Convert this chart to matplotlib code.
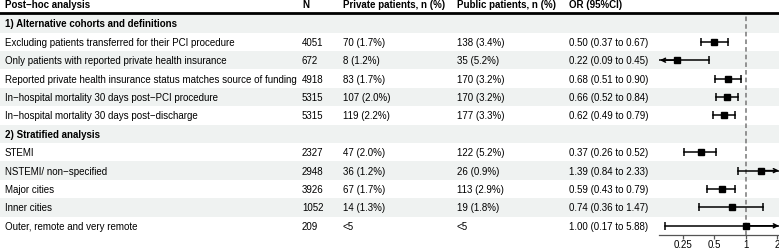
import numpy as np
import matplotlib.pyplot as plt

plt.rcParams['font.family'] = ['Liberation Sans', 'DejaVu Sans']

# table data (section headers have no values)
labels = ["1) Alternative cohorts and definitions",
          "Excluding patients transferred for their PCI procedure",
          "Only patients with reported private health insurance",
          "Reported private health insurance status matches source of funding",
          "In\u2212hospital mortality 30 days post\u2212PCI procedure",
          "In\u2212hospital mortality 30 days post\u2212discharge",
          "2) Stratified analysis",
          "STEMI",
          "NSTEMI/ non\u2212specified",
          "Major cities",
          "Inner cities",
          "Outer, remote and very remote"]
is_section = [True, False, False, False, False, False,
              True, False, False, False, False, False]
n_vals = ["", "4051", "672", "4918", "5315", "5315",
          "", "2327", "2948", "3926", "1052", "209"]
private = ["", "70 (1.7%)", "8 (1.2%)", "83 (1.7%)", "107 (2.0%)", "119 (2.2%)",
           "", "47 (2.0%)", "36 (1.2%)", "67 (1.7%)", "14 (1.3%)", "<5"]
public = ["", "138 (3.4%)", "35 (5.2%)", "170 (3.2%)", "170 (3.2%)", "177 (3.3%)",
          "", "122 (5.2%)", "26 (0.9%)", "113 (2.9%)", "19 (1.8%)", "<5"]
est = [np.nan, 0.50, 0.22, 0.68, 0.66, 0.62, np.nan, 0.37, 1.39, 0.59, 0.74, 1.00]
lo = [np.nan, 0.37, 0.09, 0.51, 0.52, 0.49, np.nan, 0.26, 0.84, 0.43, 0.36, 0.17]
hi = [np.nan, 0.67, 0.45, 0.90, 0.84, 0.79, np.nan, 0.52, 2.33, 0.79, 1.47, 5.88]
headers = ["Post\u2212hoc analysis", "N", "Private patients, n (%)",
           "Public patients, n (%)", "OR (95%CI)"]
ticks = [0.25, 0.5, 1, 2]
xlim = (0.15, 2.1)

W, H = 779, 251
fig = plt.figure(figsize=(W / 100, H / 100), dpi=100)
bg = fig.add_axes([0, 0, 1, 1])
bg.set_xlim(0, W)
bg.set_ylim(H, 0)
bg.axis('off')

fs = 7.0
row_h = 18.4
top = 15.2
col_x = [5, 302, 343, 457, 569]

for i, lab in enumerate(labels):
    yc = top + row_h * (i + 0.5)
    if i % 2 == 0:
        bg.add_patch(plt.Rectangle((0, yc - row_h / 2), W, row_h,
                                   color='#eff2f1', lw=0, zorder=0))
    if is_section[i]:
        bg.text(col_x[0], yc, lab, fontsize=fs, fontweight='bold', va='center')
        continue
    or_txt = "%.2f (%.2f to %.2f)" % (est[i], lo[i], hi[i])
    for x, t in zip(col_x, [lab, n_vals[i], private[i], public[i], or_txt]):
        bg.text(x, yc, t, fontsize=fs, va='center')

for x, t in zip(col_x, headers):
    bg.text(x, 5.5, t, fontsize=fs, fontweight='bold', va='center')
bg.plot([0, W], [14.2, 14.2], color='black', lw=2)

# forest panel
x_of = lambda v: 745.7 + 31.5 * np.log2(v)
left = x_of(xlim[0])
right = x_of(xlim[1])
bottom = top + row_h * len(labels)
fa = fig.add_axes([left / W, (H - bottom) / H, (right - left) / W, (bottom - top) / H])
fa.set_facecolor('none')
fa.set_xscale('log')
fa.set_xlim(*xlim)
fa.set_ylim(len(labels) - 0.5, -0.5)
fa.set_xticks(ticks)
fa.set_xticklabels([str(t) for t in ticks])
fa.minorticks_off()
fa.set_yticks([])
for s in ['top', 'right', 'left']:
    fa.spines[s].set_visible(False)
fa.spines['bottom'].set_color('#555555')
fa.spines['bottom'].set_linewidth(0.9)
fa.tick_params(axis='x', length=2.6, width=0.9, color='#555555', labelsize=fs, pad=0.6)
fa.axvline(1, color='#777777', ls=(0, (3, 2)), lw=1.1, zorder=1)

for i in range(len(labels)):
    if np.isnan(est[i]):
        continue
    a = max(lo[i], xlim[0])
    b = min(hi[i], xlim[1])
    fa.plot([a, b], [i, i], color='black', lw=1.1, zorder=3)
    for v, edge in [(lo[i], xlim[0]), (hi[i], xlim[1])]:
        if (v < edge and edge == xlim[0]) or (v > edge and edge == xlim[1]):
            start = est[i]
            fa.annotate('', xy=(edge * (1.01 if edge == xlim[0] else 0.99), i), xytext=(start, i),
                        arrowprops=dict(arrowstyle='->', lw=1.1, color='black',
                                        shrinkA=0, shrinkB=0, mutation_scale=7),
                        zorder=3)
        else:
            fa.plot([v], [i], marker='|', ms=6, mew=1.1, color='black', zorder=3)
    fa.plot([est[i]], [i], marker='s', ms=4.5, color='black', zorder=4)

fig.savefig('out.png', dpi=100)
